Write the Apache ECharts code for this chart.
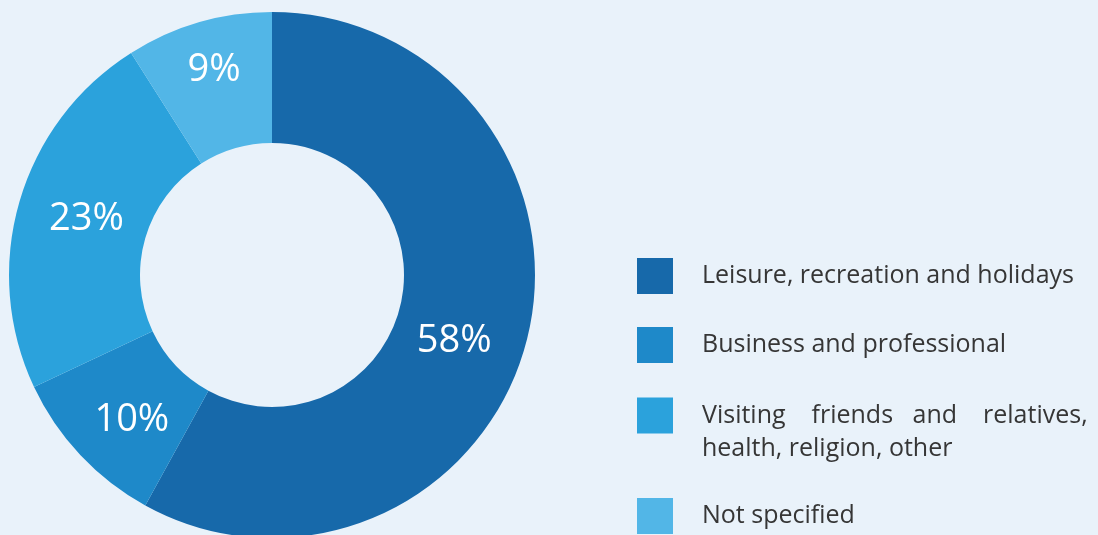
<!DOCTYPE html>
<html>
<head>
<meta charset="utf-8">
<script src="https://cdn.jsdelivr.net/npm/echarts@6/dist/echarts.min.js"></script>
<style>
  html, body { margin: 0; padding: 0; background: #e9f2fa; }
  #chart { width: 1098px; height: 535px; }
</style>
</head>
<body>
<div id="chart"></div>
<script>
// Purpose of trips, share of total (%)
const categories = [
  'Leisure, recreation and holidays',
  'Business and professional',
  'Visiting friends and relatives, health, religion, other',
  'Not specified'
];
const shares = [58, 10, 23, 9];
const colors = ['#1769aa', '#1e89c9', '#2ba2dc', '#52b6e7'];

// Legend text as shown (third entry wraps onto two lines; the leading
// blank line keeps its first line level with the swatch)
const legendText = {
  [categories[2]]: '\nVisiting    friends   and    relatives,\nhealth, religion, other'
};

// Small nudges so each percentage sits where it reads best in its slice
const labelOffsets = [[-12, 16], [6, 8], [7, 0], [-2, -12]];

const chart = echarts.init(document.getElementById('chart'), null, { renderer: 'canvas' });

const legendTops = [258, 327, 396, 498];
const legends = categories.map((name, i) => {
  const twoLine = i === 2;
  return {
    data: [name],
    orient: 'vertical',
    left: 637,
    top: twoLine ? legendTops[i] - 31.5 : legendTops[i],
    padding: 0,
    itemWidth: 36,
    itemHeight: 36,
    itemGap: 0,
    icon: 'rect',
    selectedMode: false,
    formatter: n => legendText[n] || n,
    textStyle: {
      fontFamily: 'Open Sans',
      fontSize: 25,
      color: '#363636',
      padding: [3, 0, 0, 24],
      lineHeight: 33
    }
  };
});

chart.setOption({
  backgroundColor: '#e9f2fa',
  animation: false,
  color: colors,
  legend: legends,
  series: [{
    type: 'pie',
    center: [272, 275],
    radius: [132, 263],
    startAngle: 90,
    clockwise: true,
    avoidLabelOverlap: false,
    labelLine: { show: false },
    emphasis: { disabled: true },
    data: categories.map((name, i) => ({
      name,
      value: shares[i],
      label: { offset: labelOffsets[i] }
    })),
    label: {
      show: true,
      position: 'inside',
      formatter: p => p.value + '%',
      color: '#ffffff',
      fontFamily: 'Open Sans',
      fontSize: 38,
      fontWeight: 'normal'
    }
  }]
});
</script>
</body>
</html>
